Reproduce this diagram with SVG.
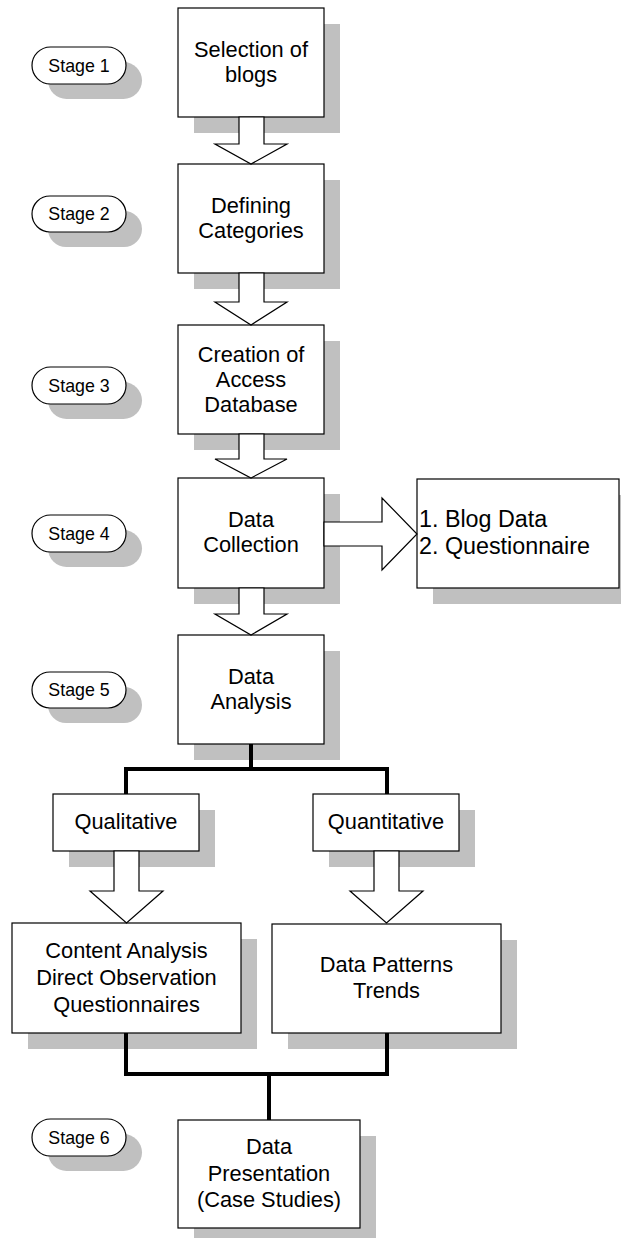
<svg xmlns="http://www.w3.org/2000/svg" width="621" height="1238" viewBox="0 0 621 1238">
<style>
.bg{fill:#fff}
.sh{fill:#c0c0c0;stroke:none}
.bx{fill:#fff;stroke:#000;stroke-width:1.2}
.t{font-family:"Liberation Sans",Arial,sans-serif;font-size:21.8px;fill:#000;text-anchor:middle}
.st{font-family:"Liberation Sans",Arial,sans-serif;font-size:17.8px;fill:#000;text-anchor:middle}
.sd{font-family:"Liberation Sans",Arial,sans-serif;font-size:23.3px;fill:#000}
.ar{fill:#fff;stroke:#000;stroke-width:1.2;stroke-linejoin:miter}
.th{fill:none;stroke:#000;stroke-width:4;stroke-linejoin:miter;stroke-linecap:butt}
</style>
<rect class="bg" x="0" y="0" width="621" height="1238"/>

<g id="stage1"><rect class="sh" x="48" y="62" width="94" height="37" rx="18.5"/><rect class="bx" x="32" y="47" width="94" height="37" rx="18.5"/><text class="st" x="79" y="72">Stage 1</text></g>
<g id="stage2"><rect class="sh" x="48" y="211" width="94" height="36" rx="18"/><rect class="bx" x="32" y="196" width="94" height="36" rx="18"/><text class="st" x="79" y="220">Stage 2</text></g>
<g id="stage3"><rect class="sh" x="48" y="382" width="94" height="37" rx="18.5"/><rect class="bx" x="32" y="367" width="94" height="37" rx="18.5"/><text class="st" x="79" y="392">Stage 3</text></g>
<g id="stage4"><rect class="sh" x="48" y="530" width="94" height="37" rx="18.5"/><rect class="bx" x="32" y="515" width="94" height="37" rx="18.5"/><text class="st" x="79" y="540">Stage 4</text></g>
<g id="stage5"><rect class="sh" x="48" y="687" width="94" height="36" rx="18"/><rect class="bx" x="32" y="672" width="94" height="36" rx="18"/><text class="st" x="79" y="696">Stage 5</text></g>
<g id="stage6"><rect class="sh" x="48" y="1134" width="94" height="37" rx="18.5"/><rect class="bx" x="32" y="1119" width="94" height="37" rx="18.5"/><text class="st" x="79" y="1144">Stage 6</text></g>

<g id="selection"><rect class="sh" x="194" y="24" width="146" height="109"/><rect class="bx" x="178" y="8" width="146" height="109"/><text class="t" x="251" y="57">Selection of</text><text class="t" x="251" y="82">blogs</text></g>
<g id="defining"><rect class="sh" x="194" y="180" width="146" height="109"/><rect class="bx" x="178" y="164" width="146" height="109"/><text class="t" x="251" y="213">Defining</text><text class="t" x="251" y="238">Categories</text></g>
<g id="creation"><rect class="sh" x="194" y="341" width="146" height="109"/><rect class="bx" x="178" y="325" width="146" height="109"/><text class="t" x="251" y="362">Creation of</text><text class="t" x="251" y="387">Access</text><text class="t" x="251" y="412">Database</text></g>
<g id="collection"><rect class="sh" x="194" y="494" width="146" height="110"/><rect class="bx" x="178" y="478" width="146" height="110"/><text class="t" x="251" y="527">Data</text><text class="t" x="251" y="552">Collection</text></g>
<g id="sources"><rect class="sh" x="433" y="495" width="203" height="109"/><rect class="bx" x="417" y="479" width="202" height="109"/><text class="sd" x="419" y="527">1. Blog Data</text><text class="sd" x="419" y="554">2. Questionnaire</text></g>
<g id="analysis"><rect class="sh" x="194" y="651" width="146" height="109"/><rect class="bx" x="178" y="635" width="146" height="109"/><text class="t" x="251" y="684">Data</text><text class="t" x="251" y="709">Analysis</text></g>
<g id="qualitative"><rect class="sh" x="69" y="810" width="146" height="57"/><rect class="bx" x="53" y="794" width="146" height="57"/><text class="t" x="126" y="829">Qualitative</text></g>
<g id="quantitative"><rect class="sh" x="329" y="810" width="146" height="57"/><rect class="bx" x="313" y="794" width="146" height="57"/><text class="t" x="386" y="829">Quantitative</text></g>
<g id="content"><rect class="sh" x="28" y="939" width="229" height="110"/><rect class="bx" x="12" y="923" width="229" height="110"/><text class="t" x="126.5" y="958">Content Analysis</text><text class="t" x="126.5" y="985">Direct Observation</text><text class="t" x="126.5" y="1012">Questionnaires</text></g>
<g id="patterns"><rect class="sh" x="288" y="940" width="229" height="109"/><rect class="bx" x="272" y="924" width="229" height="109"/><text class="t" x="386.5" y="972">Data Patterns</text><text class="t" x="386.5" y="998">Trends</text></g>
<g id="presentation"><rect class="sh" x="194" y="1136" width="182" height="108"/><rect class="bx" x="178" y="1120" width="182" height="108"/><text class="t" x="269" y="1154">Data</text><text class="t" x="269" y="1181">Presentation</text><text class="t" x="269" y="1207">(Case Studies)</text></g>

<g id="connectors">
<polygon class="ar" points="239,117 264,117 264,144 287,144 251,164 215,144 239,144"/>
<polygon class="ar" points="239,273 264,273 264,302 287,302 251,325 215,302 239,302"/>
<polygon class="ar" points="239,434 264,434 264,459 287,459 251,478 215,459 239,459"/>
<polygon class="ar" points="239,588 264,588 264,614 287,614 251,635 215,614 239,614"/>
<polygon class="ar" points="324,522 382,522 382,498 417,534 382,570 382,546 324,546"/>
<polygon class="ar" points="114,851 139,851 139,891 163,891 126.5,923 90,891 114,891"/>
<polygon class="ar" points="374,851 399,851 399,891 423,891 386.5,923 350,891 374,891"/>
<polyline class="th" points="126,794 126,769 387,769 387,794"/>
<line class="th" x1="251" y1="744" x2="251" y2="769"/>
<polyline class="th" points="126,1033 126,1074 387,1074 387,1033"/>
<line class="th" x1="269" y1="1074" x2="269" y2="1120"/>
</g>
</svg>
